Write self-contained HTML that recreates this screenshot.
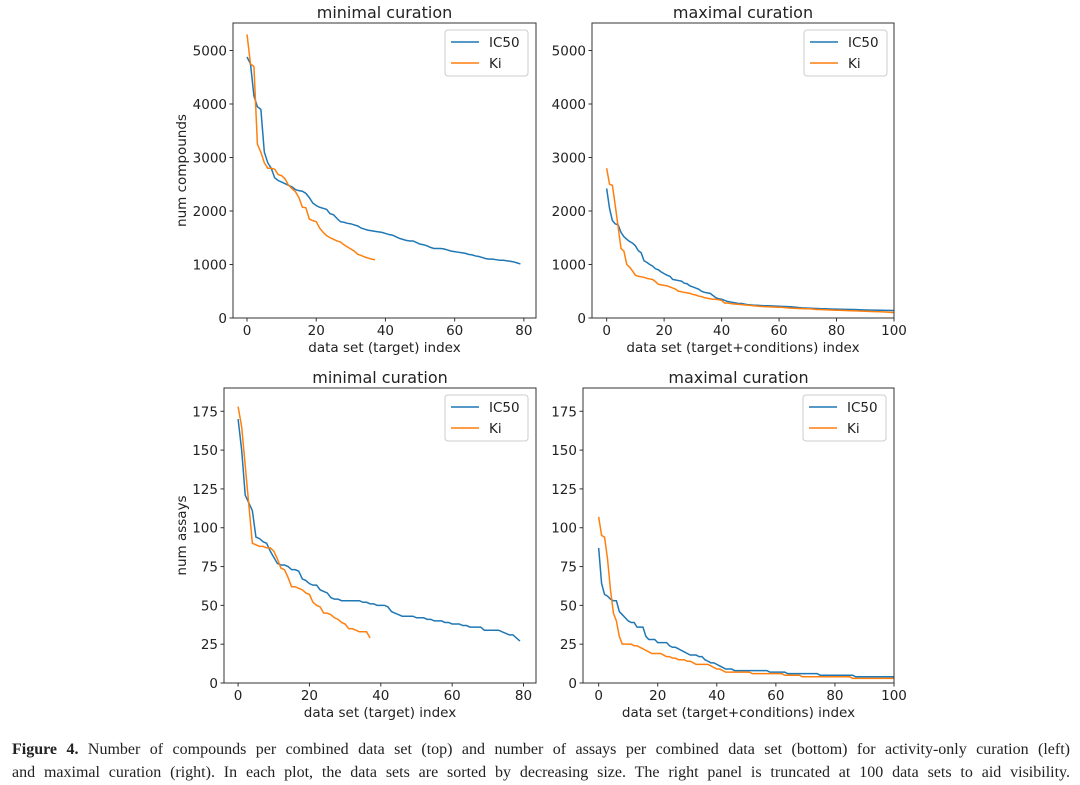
<!DOCTYPE html>
<html><head><meta charset="utf-8"><style>
body{margin:0;background:#fff;width:1080px;height:785px;overflow:hidden;}
svg text{font-family:"DejaVu Sans","Liberation Sans",sans-serif;fill:#222;}
.cap{position:absolute;left:12px;top:738px;width:1058px;font-family:"Liberation Serif",serif;font-size:16px;line-height:23px;color:#222;}
.cap div{text-align:justify;text-align-last:justify;white-space:nowrap;}
</style></head><body>
<svg id="fig" width="1080" height="735" style="position:absolute;left:0;top:0"></svg>
<div class="cap"><div><b>Figure 4.</b> Number of compounds per combined data set (top) and number of assays per combined data set (bottom) for activity-only curation (left)</div><div>and maximal curation (right). In each plot, the data sets are sorted by decreasing size. The right panel is truncated at 100 data sets to aid visibility.</div></div>
<script>
const tlIC50=[4880,4750,4150,3950,3900,3100,2900,2800,2620,2570,2540,2510,2480,2450,2400,2380,2370,2330,2250,2150,2100,2070,2050,2030,1950,1930,1860,1800,1790,1770,1760,1740,1720,1680,1660,1640,1630,1620,1610,1600,1580,1560,1550,1520,1490,1470,1450,1440,1440,1410,1380,1370,1350,1320,1300,1300,1300,1290,1270,1250,1240,1230,1220,1210,1190,1180,1160,1150,1130,1110,1100,1100,1090,1080,1080,1070,1060,1050,1030,1010];
const tlKi=[5300,4750,4700,3250,3100,2900,2800,2800,2780,2680,2660,2600,2480,2420,2360,2250,2070,2060,1850,1820,1800,1680,1600,1540,1500,1470,1440,1420,1370,1330,1290,1250,1190,1170,1140,1120,1100,1090];
const trIC50=[2420,2050,1820,1760,1740,1600,1520,1470,1430,1400,1350,1260,1220,1070,1040,1000,970,920,900,860,830,800,780,720,710,700,690,650,640,600,580,560,540,500,480,470,460,420,380,360,350,330,310,300,290,280,270,270,260,250,245,240,238,235,232,230,228,226,224,222,220,218,215,212,210,205,200,195,190,188,185,182,180,178,176,174,172,170,168,166,165,164,163,162,161,160,158,156,154,152,150,149,148,147,146,145,144,143,142,141,140];
const trKi=[2800,2500,2480,2100,1700,1300,1250,1000,950,880,800,780,770,760,740,730,720,680,630,620,610,600,580,560,540,500,490,480,470,460,440,430,410,400,380,370,360,350,350,340,330,280,280,270,265,260,255,250,245,240,235,230,225,220,215,212,210,208,206,204,202,200,195,190,185,182,180,178,176,174,172,170,165,160,158,156,154,152,150,148,146,144,142,140,138,136,134,132,130,128,126,124,122,120,118,116,114,112,110,105,100];
const blIC50=[170,150,121,116,111,94,93,91,90,85,81,77,76,76,75,73,73,72,67,66,64,63,63,60,59,58,55,54,54,53,53,53,53,53,53,52,52,51,51,50,50,50,49,46,45,44,43,43,43,43,42,42,42,41,41,40,40,40,39,39,38,38,38,37,37,36,36,36,36,34,34,34,34,34,33,32,31,31,29,27];
const blKi=[178,165,140,115,90,89,88,88,87,87,85,80,74,73,68,62,62,61,60,58,57,52,50,49,45,45,44,42,41,39,38,35,35,34,33,33,33,29];
const brIC50=[87,64,57,56,54,53,53,46,44,42,40,39,39,36,36,36,30,28,28,28,26,26,26,26,24,23,23,22,21,20,19,18,18,18,17,17,15,14,13,13,12,11,10,9,9,9,8,8,8,8,8,8,8,8,8,8,8,8,7,7,7,7,7,7,6,6,6,6,6,6,6,6,6,6,6,5,5,5,5,5,5,5,5,5,5,5,5,4,4,4,4,4,4,4,4,4,4,4,4,4,4];
const brKi=[107,95,94,80,60,45,40,30,25,25,25,25,24,24,23,22,21,20,19,19,19,19,18,17,17,16,16,15,15,15,14,14,13,12,12,12,12,12,11,10,9,9,8,7,7,7,7,7,7,7,7,7,6,6,6,6,6,6,6,6,6,6,6,5,5,5,5,5,5,4,4,4,4,4,4,4,4,4,4,4,4,4,4,4,4,4,3,3,3,3,3,3,3,3,3,3,3,3,3,3,3];
const xTicksMin=[0,20,40,60,80], xTicksMax=[0,20,40,60,80,100];
const yTicksC=[0,1000,2000,3000,4000,5000], yTicksA=[0,25,50,75,100,125,150,175];
const NS='http://www.w3.org/2000/svg';
const svg=document.getElementById('fig');
function mk(t,a,p){const e=document.createElementNS(NS,t);for(const k in a)e.setAttribute(k,a[k]);(p||svg).appendChild(e);return e;}
function panel(id,L,R,T,B,x0,x1,y1,xt,yt,xl,yl,title,s1,s2,legX){
 const g=mk('g',{});
 
 
 const X=v=>L+(v-x0)/(x1-x0)*(R-L), Y=v=>B-v/y1*(B-T);
 const cp=mk('clipPath',{id:'c'+id},g);mk('rect',{x:L,y:T,width:R-L,height:B-T},cp);
 [[s1,'#1f77b4','ic50-line'],[s2,'#ff7f0e','ki-line']].forEach(([s,c,n])=>{
  const p=mk('polyline',{points:s.map((v,i)=>X(i)+','+Y(v)).join(' '),fill:'none',stroke:c,'stroke-width':1.5,'clip-path':'url(#c'+id+')'},g);
  
  
 });
 const fr=mk('rect',{x:L,y:T,width:R-L,height:B-T,fill:'none',stroke:'#333','stroke-width':1},g);
 
 
 xt.forEach(v=>{mk('line',{x1:X(v),x2:X(v),y1:B,y2:B+3.5,stroke:'#333'},g);const t=mk('text',{x:X(v),y:B+17,'text-anchor':'middle','font-size':13.5},g);t.textContent=v;
  
  });
 yt.forEach(v=>{mk('line',{x1:L-3.5,x2:L,y1:Y(v),y2:Y(v),stroke:'#333'},g);const t=mk('text',{x:L-6,y:Y(v)+5,'text-anchor':'end','font-size':13.5},g);t.textContent=v;
  
  });
 let t=mk('text',{x:(L+R)/2,y:B+34,'text-anchor':'middle','font-size':13.5},g);t.textContent=xl;
 
 
 if(yl){t=mk('text',{x:0,y:0,'text-anchor':'middle','font-size':13.5,transform:`translate(186,${(T+B)/2}) rotate(-90)`},g);t.textContent=yl;
 
 }
 t=mk('text',{x:(L+R)/2,y:T-5,'text-anchor':'middle','font-size':16},g);t.textContent=title;
 
 
 const lg=mk('g',{},g);
 
 
 mk('rect',{x:legX,y:T+7,width:83,height:46,rx:3,fill:'#fff',stroke:'#ccc'},lg);
 [['IC50','#1f77b4'],['Ki','#ff7f0e']].forEach(([n,c],i)=>{const yy=T+19+i*21;mk('line',{x1:legX+6,x2:legX+34,y1:yy,y2:yy,stroke:c,'stroke-width':1.5},lg);
  const tt=mk('text',{x:legX+44,y:yy+5,'font-size':13.5},lg);tt.textContent=n;
  
  });
}
panel('compounds-minimal',233,536,23,318,-4.05,83.5,5514,xTicksMin,yTicksC,'data set (target) index','num compounds','minimal curation',tlIC50,tlKi,445);
panel('compounds-maximal',592,894,23,318,-5.1,100,5514,xTicksMax,yTicksC,'data set (target+conditions) index','','maximal curation',trIC50,trKi,804);
panel('assays-minimal',224,536,388,683,-3.95,83.5,190,xTicksMin,yTicksA,'data set (target) index','num assays','minimal curation',blIC50,blKi,445);
panel('assays-maximal',583,894,388,683,-5.3,100,190,xTicksMax,yTicksA,'data set (target+conditions) index','','maximal curation',brIC50,brKi,803);
</script>
</body></html>
